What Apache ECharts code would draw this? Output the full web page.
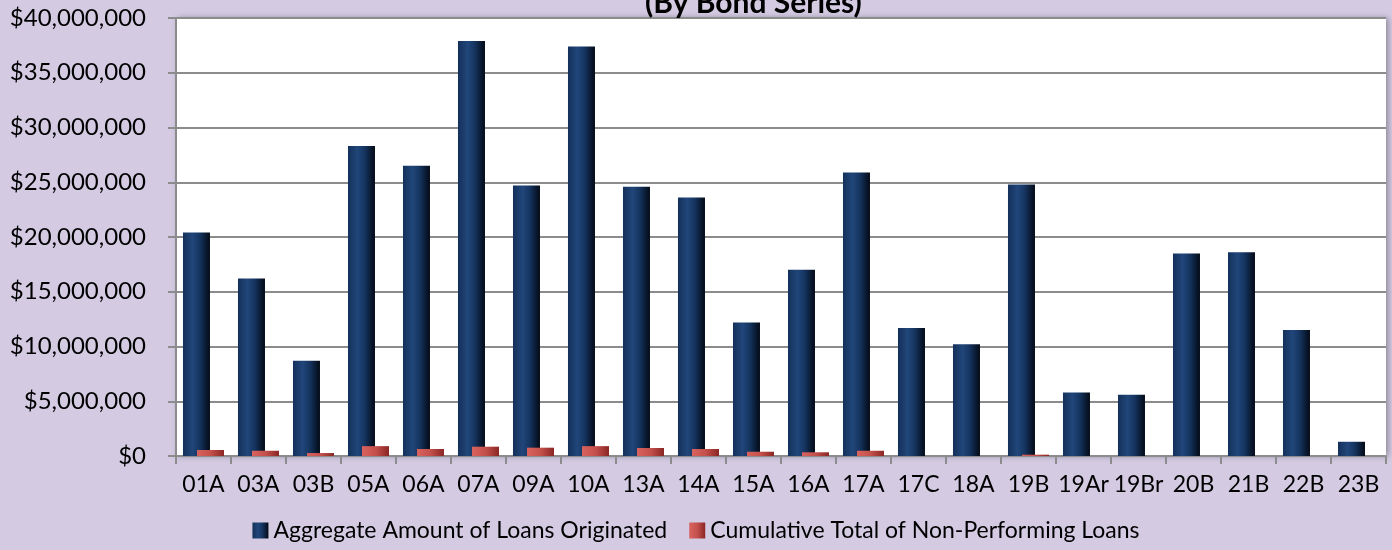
<!DOCTYPE html>
<html>
<head>
<meta charset="utf-8">
<script src="https://cdn.jsdelivr.net/npm/echarts@6/dist/echarts.min.js"></script>
<style>
html,body{margin:0;padding:0;background:#D4CBE3;}
#c{width:1392px;height:550px;}
</style>
</head>
<body>
<div id="c"></div>
<script>
const categories = ['01A','03A','03B','05A','06A','07A','09A','10A','13A','14A','15A','16A','17A','17C','18A','19B','19Ar','19Br','20B','21B','22B','23B'];
const aggregateOriginated = [20400000,16200000,8700000,28300000,26500000,37900000,24700000,37400000,24600000,23600000,12200000,17000000,25900000,11700000,10200000,24800000,5800000,5600000,18500000,18600000,11500000,1300000];
const nonPerforming = [550000,480000,270000,900000,640000,850000,760000,900000,730000,640000,390000,340000,480000,0,0,120000,0,0,0,0,0,0];
const titleText = '(By Bond Series)';
const seriesNames = ['Aggregate Amount of Loans Originated','Cumulative Total of Non-Performing Loans'];

const FONT = 'Lato, "Open Sans", sans-serif';
const chart = echarts.init(document.getElementById('c'), null, {renderer:'canvas'});
const navy = new echarts.graphic.LinearGradient(0,0,1,0,[
  {offset:0,color:'#14305a'},{offset:0.35,color:'#21467a'},{offset:0.6,color:'#163663'},{offset:1,color:'#030a16'}]);
const red = new echarts.graphic.LinearGradient(0,0,1,0,[
  {offset:0,color:'#d8625e'},{offset:0.5,color:'#c4504c'},{offset:1,color:'#8a2624'}]);
chart.setOption({
  backgroundColor:'#D4CBE3',
  animation:false,
  title:{text:titleText,left:640,top:-17,textStyle:{fontFamily:FONT,fontSize:30,fontWeight:'bold',color:'#000'}},
  grid:{left:176,right:6,top:18,bottom:94,show:true,backgroundColor:'#ffffff',borderWidth:0,
        shadowColor:'rgba(0,0,0,0.35)',shadowBlur:6,shadowOffsetX:2,shadowOffsetY:0},
  legend:{data:seriesNames,bottom:3,left:'center',itemWidth:16,itemHeight:16,itemGap:22,
          textStyle:{fontFamily:FONT,fontSize:23,color:'#000'},
          icon:'rect'},
  xAxis:{type:'category',data:categories,
    axisLine:{lineStyle:{color:'#8c8c8c',width:2}},
    axisTick:{show:true,length:8,lineStyle:{color:'#8c8c8c',width:2},interval:0},
    axisLabel:{fontFamily:FONT,fontSize:23,color:'#000',margin:17,interval:0}},
  yAxis:{type:'value',min:0,max:40000000,interval:5000000,
    axisLine:{show:true,lineStyle:{color:'#8c8c8c',width:2}},
    axisTick:{show:true,length:8,lineStyle:{color:'#8c8c8c',width:2}},
    splitLine:{lineStyle:{color:'#8c8c8c',width:2}},
    axisLabel:{fontFamily:FONT,fontSize:24,color:'#000',margin:30,
      formatter:v=>'$'+v.toLocaleString('en-US')}},
  series:[
    {name:seriesNames[0],type:'bar',data:aggregateOriginated,barWidth:27,barGap:'-48%',
     itemStyle:{color:navy}},
    {name:seriesNames[1],type:'bar',data:nonPerforming,barWidth:27,
     itemStyle:{color:red}}
  ]
});
</script>
</body>
</html>
